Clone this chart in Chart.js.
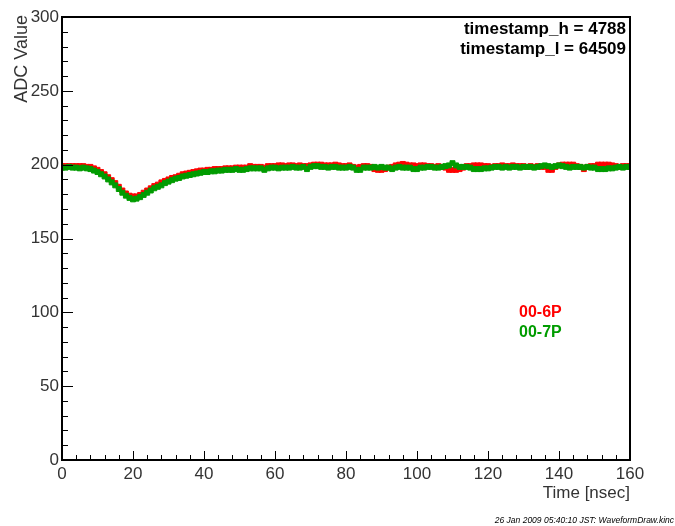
<!DOCTYPE html>
<html>
<head>
<meta charset="utf-8">
<script src="https://cdn.jsdelivr.net/npm/chart.js@4/dist/chart.umd.min.js"></script>
<style>
  html, body { margin: 0; padding: 0; background: #ffffff; }
  #wrap { width: 675px; height: 526px; position: relative; }
</style>
</head>
<body>
<div id="wrap"><canvas id="c" width="675" height="526"></canvas></div>
<script>
// Waveform samples, one per nanosecond (0..160 ns)
const timeNs = Array.from({ length: 161 }, (_, i) => i);

const adc6P = [
  199, 199, 199, 199, 199, 199, 199, 198.5, 198.5, 197.5,
  196.5, 195, 193.5, 191.5, 189.5, 187.5, 185, 182.5, 180.5, 179,
  178.5, 178.5, 179.5, 181, 182.5, 184, 185.5, 186.5, 188, 189,
  190, 191, 191.5, 192.5, 193.5, 194, 194.5, 195, 195.5, 196,
  196, 196.5, 196.5, 197, 197, 197, 197.5, 197.5, 197.5, 198,
  198, 198, 198, 199, 198.5, 198.5, 198.5, 198, 199, 199,
  199, 199.5, 199.5, 199, 199.5, 199.5, 199, 199.5, 199, 199,
  199.5, 200, 200, 200, 199.5, 199.5, 199.5, 200, 199.5, 199,
  199, 199.5, 198.5, 198, 198.5, 199, 199, 198.5, 197, 196.5,
  196.5, 197, 198, 198.5, 199.5, 200, 200.5, 200, 199.5, 199.5,
  199, 199.5, 199.5, 199, 199, 198.5, 199, 198.5, 198, 196.5,
  196.5, 196.5, 197, 198, 199, 199, 199.5, 199.5, 199.5, 199,
  199, 198.5, 199, 199, 199.5, 199, 199, 199.5, 199, 199,
  199, 198.5, 199, 198.5, 199, 198.5, 198.5, 196.5, 196.5, 198.5,
  199.5, 200, 200, 200, 200, 199, 198.5, 197, 198.5, 199,
  199, 200, 200, 200, 200, 199.5, 199, 198.5, 199, 199, 199
];

const adc7P = [
  198, 198, 198.5, 198, 198, 197.5, 198, 197.5, 197, 196,
  195, 193.5, 192, 190, 188, 186, 183.5, 181, 179, 177.5,
  176.5, 177, 178, 179.5, 181, 182.5, 184, 185, 186, 187.5,
  188.5, 189.5, 190.5, 191, 192, 192.5, 193, 193.5, 194, 194.5,
  195, 195, 195.5, 195.5, 196, 196, 196.5, 196.5, 196.5, 197,
  196.5, 196.5, 197, 197.5, 197.5, 197.5, 197.5, 196.5, 197.5, 198,
  198, 197.5, 198, 198, 198, 198.5, 198, 198, 198.5, 197,
  198.5, 199, 199, 198.5, 198.5, 198, 198.5, 198.5, 198, 198,
  198, 198.5, 198, 196.5, 196.5, 198, 198, 198, 198.5, 198,
  198.5, 198, 198, 197, 198, 198.5, 198, 198, 198, 197,
  197, 198, 198, 198.5, 198.5, 198, 198, 198.5, 199, 199.5,
  201, 199.5, 198.5, 198.5, 198.5, 198, 197, 197, 197, 197.5,
  197.5, 198, 198.5, 198.5, 198, 198.5, 198, 198.5, 198.5, 198,
  198.5, 198.5, 198.5, 198, 198.5, 199, 199.5, 199, 198.5, 199,
  199.5, 199, 198.5, 198, 198.5, 198.5, 198.5, 198, 198.5, 198,
  198, 197, 197, 197, 197.5, 197.5, 198, 198.5, 198, 198.5, 198.5
];

const seriesNames = ['00-6P', '00-7P'];
const xMajorTicks = [0, 20, 40, 60, 80, 100, 120, 140, 160];
const yMajorTicks = [0, 50, 100, 150, 200, 250, 300];
const infoLines = ['timestamp_h = 4788', 'timestamp_l = 64509'];
const footerText = '26 Jan 2009 05:40:10 JST: WaveformDraw.kinc';

const RED = '#ff0000';
const GREEN = '#009c00';
const LABEL_FONT = '"Liberation Sans", Arial, sans-serif';

function toPoints(ys) { return timeNs.map((t, i) => ({ x: t, y: ys[i] })); }

// Frame, inward ticks, labels and annotation texts
const frameDecor = {
  id: 'frameDecor',
  afterDraw(chart) {
    const { ctx, chartArea: a, scales } = chart;
    const xs = scales.x, ys = scales.y;
    ctx.save();

    // ticks (drawn inside the frame)
    ctx.strokeStyle = '#000';
    ctx.lineWidth = 1;
    ctx.beginPath();
    for (let v = 0; v <= 160; v += 4) {
      const px = Math.round(xs.getPixelForValue(v)) + 0.5;
      const len = v % 20 === 0 ? 9 : 5;
      ctx.moveTo(px, a.bottom);
      ctx.lineTo(px, a.bottom - len);
    }
    for (let v = 0; v <= 300; v += 10) {
      const py = Math.round(ys.getPixelForValue(v)) + 0.5;
      const len = v % 50 === 0 ? 11 : 6;
      ctx.moveTo(a.left, py);
      ctx.lineTo(a.left + len, py);
    }
    ctx.stroke();

    // frame
    ctx.lineWidth = 2;
    ctx.strokeRect(a.left, a.top, a.right - a.left, a.bottom - a.top);

    // tick labels
    ctx.fillStyle = '#333333';
    ctx.font = '17px ' + LABEL_FONT;
    ctx.textAlign = 'center';
    ctx.textBaseline = 'top';
    xMajorTicks.forEach(v => {
      ctx.fillText(String(v), xs.getPixelForValue(v), a.bottom + 6);
    });
    ctx.textAlign = 'right';
    ctx.textBaseline = 'middle';
    yMajorTicks.forEach(v => {
      ctx.fillText(String(v), a.left - 3, ys.getPixelForValue(v));
    });

    // axis titles
    ctx.textAlign = 'right';
    ctx.textBaseline = 'alphabetic';
    ctx.fillText('Time [nsec]', a.right, a.bottom + 38);
    ctx.save();
    ctx.translate(27, a.top - 2);
    ctx.rotate(-Math.PI / 2);
    ctx.textAlign = 'right';
    ctx.font = '18px ' + LABEL_FONT;
    ctx.fillText('ADC Value', 0, 0);
    ctx.restore();

    // info box text
    ctx.fillStyle = '#000';
    ctx.font = 'bold 17px ' + LABEL_FONT;
    ctx.textAlign = 'right';
    ctx.fillText(infoLines[0], a.right - 4, 34);
    ctx.fillText(infoLines[1], a.right - 4, 54);

    // series names
    ctx.font = 'bold 16px ' + LABEL_FONT;
    ctx.textAlign = 'left';
    ctx.fillStyle = RED;
    ctx.fillText(seriesNames[0], 519, 317);
    ctx.fillStyle = GREEN;
    ctx.fillText(seriesNames[1], 519, 337);

    // footer
    ctx.fillStyle = '#000';
    ctx.font = 'italic 8.5px ' + LABEL_FONT;
    ctx.textAlign = 'right';
    ctx.fillText(footerText, 674, 523);

    ctx.restore();
  }
};

new Chart(document.getElementById('c'), {
  type: 'scatter',
  data: {
    datasets: [
      {
        label: seriesNames[0],
        data: toPoints(adc6P),
        pointStyle: 'rect',
        pointRadius: 3.5,
        borderWidth: 1,
        backgroundColor: RED,
        borderColor: RED,
        order: 2
      },
      {
        label: seriesNames[1],
        data: toPoints(adc7P),
        pointStyle: 'rect',
        pointRadius: 3.5,
        borderWidth: 1,
        backgroundColor: GREEN,
        borderColor: GREEN,
        order: 1
      }
    ]
  },
  options: {
    responsive: false,
    animation: false,
    events: [],
    layout: { padding: { left: 62, right: 45, top: 17, bottom: 66 } },
    plugins: { legend: { display: false }, tooltip: { enabled: false } },
    scales: {
      x: { type: 'linear', min: 0, max: 160, display: false },
      y: { type: 'linear', min: 0, max: 300, display: false }
    }
  },
  plugins: [frameDecor]
});
</script>
</body>
</html>
